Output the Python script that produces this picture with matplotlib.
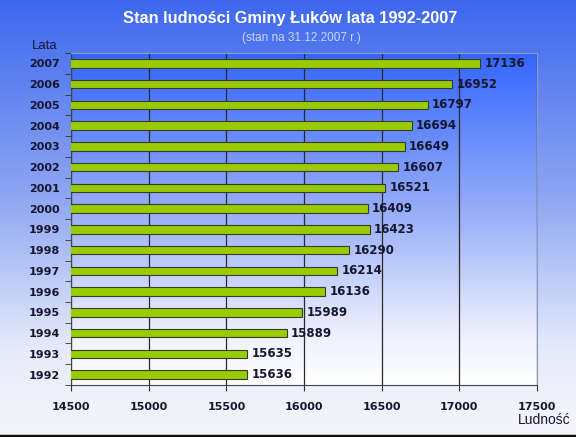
import numpy as np
import matplotlib.pyplot as plt
from matplotlib.colors import LinearSegmentedColormap

years = ['1992', '1993', '1994', '1995', '1996', '1997', '1998', '1999',
         '2000', '2001', '2002', '2003', '2004', '2005', '2006', '2007']
population = [15636, 15635, 15889, 15989, 16136, 16214, 16290, 16423,
              16409, 16521, 16607, 16649, 16694, 16797, 16952, 17136]
xticks = [14500, 15000, 15500, 16000, 16500, 17000, 17500]

fig = plt.figure(figsize=(5.76, 4.37), dpi=100)

# background gradient for the whole figure
bg = fig.add_axes([0, 0, 1, 1], zorder=-10)
bg_cmap = LinearSegmentedColormap.from_list(
    'bg', [(0.0, '#3d68ee'), (0.45, '#8ea6f2'), (0.8, '#e6ebfb'), (1.0, '#f6f6fa')])
bg.imshow(np.linspace(0, 1, 256).reshape(-1, 1), cmap=bg_cmap, aspect='auto',
          extent=[0, 1, 0, 1], origin='upper')
bg.set_axis_off()
bg.axhline(0.002, color='#111111', lw=2.5)

ax = fig.add_axes([0.1233, 0.119, 0.809, 0.7597])
ax.set_facecolor('none')
pa_cmap = LinearSegmentedColormap.from_list(
    'pa', [(0.0, '#3366ff'), (0.5, '#9cb1f7'), (0.85, '#eef1fd'), (1.0, '#ffffff')])
ax.imshow(np.linspace(0, 1, 256).reshape(-1, 1), cmap=pa_cmap, aspect='auto',
          extent=[14500, 17500, -0.5, 15.5], origin='upper', zorder=0)

ypos = np.arange(len(years))
ax.barh(ypos, population, height=0.4, color='#99cc00', edgecolor='#3a3a2a',
        linewidth=0.8, zorder=3)
for y, v in zip(ypos, population):
    ax.text(v + 28, y, str(v), va='center', ha='left', fontsize=8.5,
            fontweight='bold', color='#161630', zorder=4)

ax.set_xlim(14500, 17500)
ax.set_ylim(-0.5, 15.5)
ax.set_xticks(xticks)
ax.set_xticklabels([str(t) for t in xticks], fontsize=8, fontweight='bold',
                   color='#161630')
ax.set_yticks(ypos)
ax.set_yticklabels(years, fontsize=8, fontweight='bold', color='#161630')
ax.set_yticks(np.arange(-0.5, 16, 1), minor=True)
ax.tick_params(axis='y', which='major', length=0, pad=8)
ax.tick_params(axis='y', which='minor', length=4, direction='out', color='#333333')
ax.tick_params(axis='x', length=4, direction='out', color='#333333', pad=8)
ax.xaxis.grid(True, color='#2a2a2a', lw=0.9, zorder=1)
ax.set_axisbelow(True)
for s in ['left', 'bottom']:
    ax.spines[s].set_color('#444444')
for s in ['top', 'right']:
    ax.spines[s].set_color('#8c9ac8')

fig.text(0.503, 0.958, 'Stan ludności Gminy Łuków lata 1992-2007', ha='center',
         va='center', fontsize=11.8, fontweight='bold', color='white',
         family='Liberation Sans')
fig.text(0.524, 0.913, '(stan na 31.12.2007 r.)', ha='center', va='center',
         fontsize=8.5, color='#c9d6ff', family='Liberation Sans')
fig.text(0.078, 0.895, 'Lata', ha='center', va='center', fontsize=9.5,
         color='#161630', family='Liberation Sans')
fig.text(0.99, 0.038, 'Ludność', ha='right', va='center', fontsize=10,
         color='#161630', family='Liberation Sans')

fig.savefig('out.png', dpi=100)
